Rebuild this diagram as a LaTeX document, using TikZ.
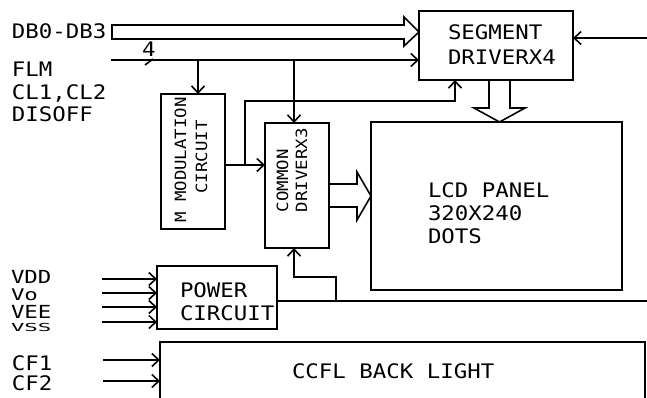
\documentclass[tikz,border=0pt]{standalone}
\usepackage{fontspec}
\newfontfamily\cad[FakeStretch=1.12]{DejaVu Sans Mono}
\usetikzlibrary{arrows.meta}
\begin{document}
\begin{tikzpicture}[x=1pt,y=-1pt,
  every node/.style={inner sep=0pt, outer sep=0pt},
  ln/.style={line width=1.6pt},
  arr/.style={ln, -{Straight Barb[length=7pt,width=13pt,line width=1.6pt]}},
  box/.style={draw, ln, rectangle},
  txt/.style={font=\cad\fontsize{20}{24}\selectfont, anchor=base west},
  vtxt/.style={font=\cad\fontsize{15.5}{18}\selectfont, rotate=90}]
\useasboundingbox[fill=white] (0,0) rectangle (647,398);
% boxes
\node[box, minimum width=154pt, minimum height=69pt] (seg) at (496,45.5) {};
\node[box, minimum width=251pt, minimum height=168pt] (lcd) at (496.5,206) {};
\node[box, minimum width=64pt, minimum height=135pt] (mod) at (193,161.5) {};
\node[box, minimum width=64pt, minimum height=125pt] (com) at (297,185.5) {};
\node[box, minimum width=120pt, minimum height=63pt] (pwr) at (217,297.5) {};
\draw[ln] (160,400) -- (160,342) -- (645,342) -- (645,400);
\coordinate (ccfl) at (160,342);
% texts
\node[txt] (tdb) at (12,39) {DB0-DB3};
\node[txt] (tflm) at (12,77) {FLM};
\node[txt] (tcl) at (12,100) {CL1,CL2};
\node[txt] (tdis) at (12,122) {DISOFF};
\node[txt] (tfour) at (142,57) {4};
\node[txt] (tseg1) at (448,40) {SEGMENT};
\node[txt] (tseg2) at (448,65) {DRIVERX4};
\node[txt] (tlcd1) at (428,197) {LCD PANEL};
\node[txt] (tlcd2) at (428,220) {320X240};
\node[txt] (tlcd3) at (428,243) {DOTS};
\node[txt] (tpw1) at (180,297) {POWER};
\node[txt] (tpw2) at (180,320) {CIRCUIT};
\node[txt] (tccfl) at (292,378) {CCFL BACK LIGHT};
\node[txt] (tcf1) at (12,370) {CF1};
\node[txt] (tcf2) at (12,390) {CF2};
\node[txt] (tvdd) at (11,283) {\scalebox{1}[0.9]{VDD}};
\node[txt] (tvo) at (11,300) {\scalebox{1}[0.8]{Vo}};
\node[txt] (tvee) at (11,318) {\scalebox{1}[0.9]{VEE}};
\node[txt] (tvss) at (11,331) {\scalebox{1}[0.55]{VSS}};
\node[vtxt, anchor=base] (tm1) at (186,160) {M MODULATION};
\node[vtxt, anchor=base] (tm2) at (207,157) {CIRCUIT};
\node[vtxt, anchor=base west] (tc1) at (288,212) {COMMON};
\node[vtxt, anchor=base west] (tc2) at (307,212) {DRIVERX3};
% data bus hollow arrow
\coordinate (busL) at (112,32);
\draw[ln, line join=miter] (busL |- 0,25) -- (404,25) -- (404,17) -- (seg.west |- 0,32) -- (404,46) -- (404,39) -- (busL |- 0,39) -- cycle;
% FLM line
\coordinate (flmL) at (111,60);
\draw[arr] (flmL) -- (flmL -| seg.west);
\draw[ln] (145,65) -- (153,59);
\draw[arr] (198,60) -- (198,0 |- mod.north);
\draw[arr] (294,60) -- (294,0 |- com.north);
% modulation to segment and common
\draw[arr] (245,165) -- (245,101) -- (455,101) -- (455,0 |- seg.south);
\draw[arr] (mod.east |- 0,165) -- (com.west |- 0,165);
% right input to segment
\coordinate (rin) at (647,38);
\draw[arr] (rin) -- (rin -| seg.east);
% segment -> lcd hollow arrow
\draw[ln, line join=miter] (489,80) -- (489,108) -- (474,108) -- (499.5,122) -- (525,108) -- (510,108) -- (510,80);
% common -> lcd hollow arrow
\draw[ln, line join=miter] (com.east |- 0,184) -- (357,184) -- (357,172) -- (lcd.west |- 0,196) -- (357,220) -- (357,207) -- (com.east |- 0,207);
% power inputs
\foreach \yy in {279,293,307,322} {
  \draw[arr] (102,\yy) -- (pwr.west |- 0,\yy);
}
% power output
\coordinate (pout) at (647,301);
\draw[ln] (pwr.east |- pout) -- (pout);
\draw[arr] (336,301) -- (336,277) -- (294,277) -- (294,0 |- com.south);
% CCFL inputs
\draw[arr] (103,360) -- (ccfl |- 0,360);
\draw[arr] (103,381) -- (ccfl |- 0,381);
\end{tikzpicture}
\end{document}
